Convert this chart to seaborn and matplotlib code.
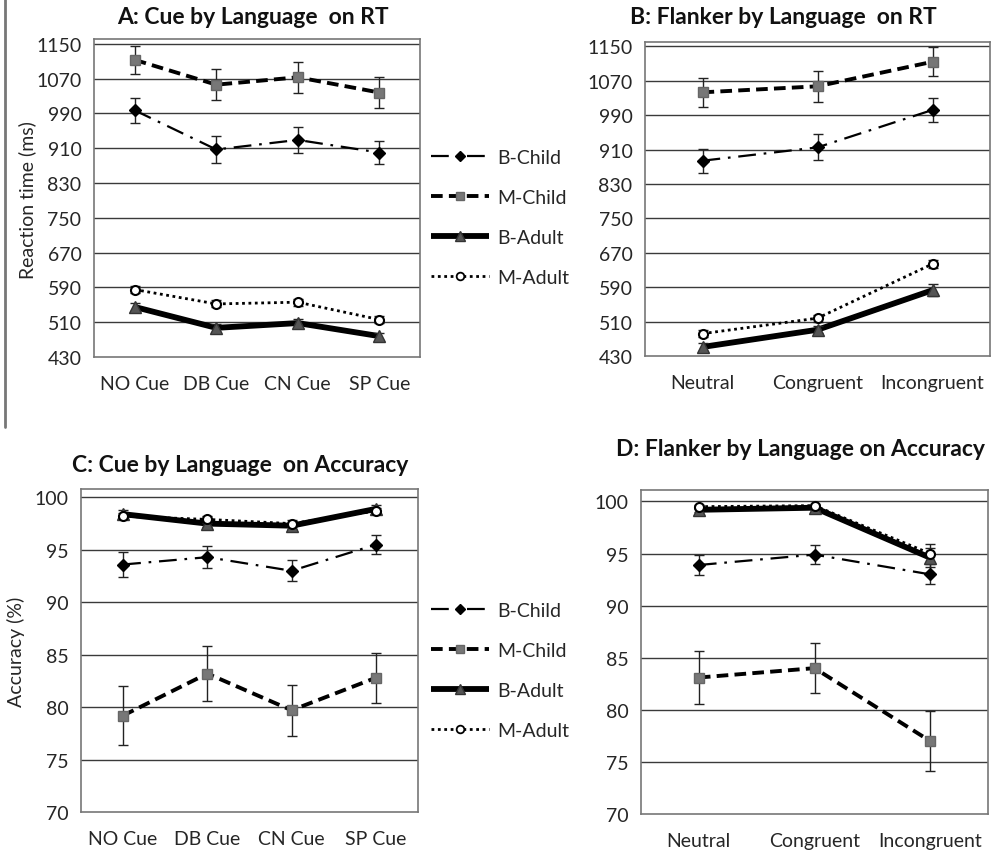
import matplotlib
matplotlib.use("Agg")
import matplotlib.pyplot as plt
from matplotlib.lines import Line2D
import seaborn as sns
import pandas as pd

sns.set_theme(style="white")
plt.rcParams['font.family'] = ['Lato', 'DejaVu Sans']

# ---------------- data ----------------
cue_labels = ["NO Cue", "DB Cue", "CN Cue", "SP Cue"]
flanker_labels = ["Neutral", "Congruent", "Incongruent"]
groups = ["B-Child", "M-Child", "B-Adult", "M-Adult"]

rt_cue_bchild = [997, 907, 929, 900]
rt_cue_mchild = [1113, 1056, 1073, 1038]
rt_cue_badult = [545, 497, 508, 478]
rt_cue_madult = [585, 552, 556, 516]
rt_cue_bchild_err = [29, 30, 29, 27]
rt_cue_mchild_err = [32, 36, 35, 35]
rt_cue_badult_err = [10, 10, 10, 8]
rt_cue_madult_err = [8, 8, 8, 8]

rt_fl_bchild = [884, 915, 1002]
rt_fl_mchild = [1043, 1057, 1114]
rt_fl_badult = [451, 491, 583]
rt_fl_madult = [482, 518, 644]
rt_fl_bchild_err = [28, 30, 28]
rt_fl_mchild_err = [34, 36, 34]
rt_fl_badult_err = [10, 8, 14]
rt_fl_madult_err = [8, 8, 10]

acc_cue_bchild = [93.6, 94.3, 93.0, 95.5]
acc_cue_mchild = [79.2, 83.2, 79.7, 82.8]
acc_cue_badult = [98.4, 97.5, 97.3, 98.9]
acc_cue_madult = [98.2, 97.9, 97.5, 98.7]
acc_cue_bchild_err = [1.2, 1.05, 1.0, 0.9]
acc_cue_mchild_err = [2.8, 2.6, 2.45, 2.4]
acc_cue_badult_err = [0.4, 0.3, 0.3, 0.4]
acc_cue_madult_err = [0.3, 0.3, 0.3, 0.3]

acc_fl_bchild = [93.9, 94.9, 93.0]
acc_fl_mchild = [83.1, 84.0, 77.0]
acc_fl_badult = [99.2, 99.4, 94.6]
acc_fl_madult = [99.5, 99.6, 95.0]
acc_fl_bchild_err = [0.95, 0.9, 0.95]
acc_fl_mchild_err = [2.5, 2.4, 2.9]
acc_fl_badult_err = [0.2, 0.2, 0.9]
acc_fl_madult_err = [0.2, 0.2, 0.9]

rt_ticks = [430, 510, 590, 670, 750, 830, 910, 990, 1070, 1150]
acc_ticks = [70, 75, 80, 85, 90, 95, 100]

# ---------------- styles ----------------
styles = {
    "B-Child": dict(lw=1.6, dashes=(8, 3.5, 1.2, 3.5), marker="D", ms=6.5, mfc="black", mec="black"),
    "M-Child": dict(lw=2.8, dashes=(3, 1.6), marker="s", ms=6.5, mfc="#777777", mec="#666666"),
    "B-Adult": dict(lw=4.2, dashes=None, marker="^", ms=8, mfc="#555555", mec="#333333"),
    "M-Adult": dict(lw=2.0, dashes=(1, 1.3), marker="o", ms=6.5, mfc="white", mec="black"),
}

FS = 14

fig = plt.figure(figsize=(10, 8.54), dpi=100)
W, H = 1000, 854

def ax_at(x0, x1, ytop, ybot):
    return fig.add_axes([x0 / W, 1 - ybot / H, (x1 - x0) / W, (ybot - ytop) / H])

axA = ax_at(94, 420, 40, 358)
axB = ax_at(645, 990, 43, 357)
axC = ax_at(81, 418, 490, 813)
axD = ax_at(641, 988, 491, 815)

def draw(ax, cats, series, errs, ticks, ylim):
    xs = list(range(len(cats)))
    for g in groups:
        st = styles[g]
        df = pd.DataFrame({"x": xs, "y": series[g]})
        sns.lineplot(data=df, x="x", y="y", ax=ax, color="black", lw=st["lw"],
                     solid_capstyle="butt", zorder=3)
        line = ax.lines[-1]
        if st["dashes"] is not None:
            line.set_dashes(st["dashes"])
        ax.errorbar(xs, series[g], yerr=errs[g], fmt="none", ecolor="#222222",
                    elinewidth=1.0, capsize=3.5, capthick=1.0, zorder=4)
        ax.plot(xs, series[g], ls="none", marker=st["marker"], ms=st["ms"],
                mfc=st["mfc"], mec=st["mec"], mew=1.5 if g == "M-Adult" else 1.0, zorder=5)
    ax.set_xlim(-0.5, len(cats) - 0.5)
    ax.set_ylim(*ylim)
    ax.set_xticks(xs)
    ax.set_xticklabels(cats, fontsize=FS)
    ax.set_yticks(ticks)
    ax.set_yticklabels([str(t) for t in ticks], fontsize=FS)
    ax.tick_params(axis="x", length=0, pad=13)
    ax.tick_params(axis="y", length=0, pad=9)
    ax.set_xlabel("")
    ax.set_ylabel("")
    for t in ticks[1:]:
        ax.axhline(t, color="#3a3a3a", lw=1.0, zorder=1)
    for sp in ax.spines.values():
        sp.set_color("#777777")
        sp.set_linewidth(1.2)
    ax.set_facecolor("white")

draw(axA, cue_labels,
     {"B-Child": rt_cue_bchild, "M-Child": rt_cue_mchild, "B-Adult": rt_cue_badult, "M-Adult": rt_cue_madult},
     {"B-Child": rt_cue_bchild_err, "M-Child": rt_cue_mchild_err, "B-Adult": rt_cue_badult_err, "M-Adult": rt_cue_madult_err},
     rt_ticks, (430, 1161))
draw(axB, flanker_labels,
     {"B-Child": rt_fl_bchild, "M-Child": rt_fl_mchild, "B-Adult": rt_fl_badult, "M-Adult": rt_fl_madult},
     {"B-Child": rt_fl_bchild_err, "M-Child": rt_fl_mchild_err, "B-Adult": rt_fl_badult_err, "M-Adult": rt_fl_madult_err},
     rt_ticks, (430, 1160))
draw(axC, cue_labels,
     {"B-Child": acc_cue_bchild, "M-Child": acc_cue_mchild, "B-Adult": acc_cue_badult, "M-Adult": acc_cue_madult},
     {"B-Child": acc_cue_bchild_err, "M-Child": acc_cue_mchild_err, "B-Adult": acc_cue_badult_err, "M-Adult": acc_cue_madult_err},
     acc_ticks, (70, 100.8))
draw(axD, flanker_labels,
     {"B-Child": acc_fl_bchild, "M-Child": acc_fl_mchild, "B-Adult": acc_fl_badult, "M-Adult": acc_fl_madult},
     {"B-Child": acc_fl_bchild_err, "M-Child": acc_fl_mchild_err, "B-Adult": acc_fl_badult_err, "M-Adult": acc_fl_madult_err},
     acc_ticks, (70, 101.1))

# titles
tkw = dict(fontsize=16.5, fontweight="bold", ha="center", va="center", color="#111111")
fig.text(253 / W, 1 - 17 / H, "A: Cue by Language  on RT", **tkw)
fig.text(783 / W, 1 - 17 / H, "B: Flanker by Language  on RT", **tkw)
fig.text(240 / W, 1 - 465 / H, "C: Cue by Language  on Accuracy", **tkw)
fig.text(800 / W, 1 - 450 / H, "D: Flanker by Language on Accuracy", **tkw)

# y labels
fig.text(27 / W, 1 - 200 / H, "Reaction time (ms)", rotation=90, fontsize=FS, ha="center", va="center")
fig.text(16 / W, 1 - 652 / H, "Accuracy (%)", rotation=90, fontsize=FS, ha="center", va="center")

# decorative left rule
fig.add_artist(Line2D([5 / W, 5 / W], [1 - 0 / H, 1 - 428 / H], color="#777777", lw=2))

# legends
def handles():
    hs = []
    for g in groups:
        st = styles[g]
        h = Line2D([], [], color="black", lw=st["lw"], marker=st["marker"], ms=st["ms"] * 0.85,
                   mfc=st["mfc"], mec=st["mec"], mew=1.3 if g == "M-Adult" else 1.0,
                   solid_capstyle="butt")
        if st["dashes"] is not None:
            h.set_dashes(st["dashes"])
        hs.append(h)
    return hs

for ytop in (150, 603):
    fig.legend(handles(), groups, loc="upper left", bbox_to_anchor=(431 / W, 1 - ytop / H),
               frameon=False, fontsize=FS, handlelength=3.0, handletextpad=0.4,
               labelspacing=1.18, borderpad=0, borderaxespad=0)

fig.savefig("out.png", dpi=100, facecolor="white")
